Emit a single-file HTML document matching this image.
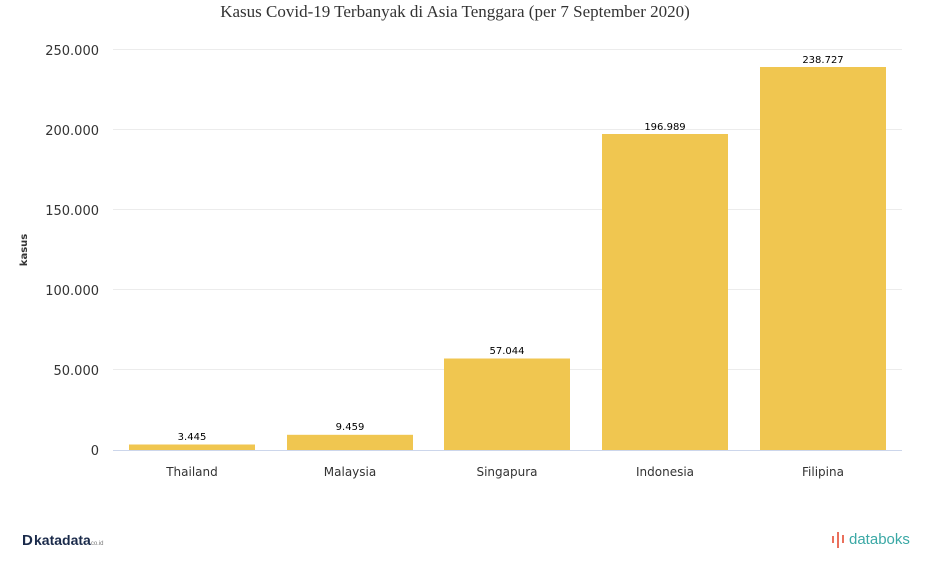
<!DOCTYPE html>
<html><head><meta charset="utf-8"><style>
body{margin:0;background:#fff;}
svg{display:block;font-family:"DejaVu Sans","Liberation Sans",sans-serif;}
</style></head><body>
<svg width="931" height="561" viewBox="0 0 931 561" xmlns="http://www.w3.org/2000/svg">
<text x="455" y="17" text-anchor="middle" font-family="Liberation Serif, serif" font-size="17" fill="#333">Kasus Covid-19 Terbanyak di Asia Tenggara (per 7 September 2020)</text>
<g stroke="#ececec" stroke-width="1">
<line x1="113" x2="902" y1="49.5" y2="49.5"/>
<line x1="113" x2="902" y1="129.5" y2="129.5"/>
<line x1="113" x2="902" y1="209.5" y2="209.5"/>
<line x1="113" x2="902" y1="289.5" y2="289.5"/>
<line x1="113" x2="902" y1="369.5" y2="369.5"/>
</g>
<line x1="113" x2="902" y1="450.5" y2="450.5" stroke="#ccd6eb"/>
<g font-size="13" fill="#333" text-anchor="end">
<text x="99" y="55">250.000</text>
<text x="99" y="135">200.000</text>
<text x="99" y="215">150.000</text>
<text x="99" y="295">100.000</text>
<text x="99" y="375">50.000</text>
<text x="99" y="455">0</text>
</g>
<text transform="translate(27,250) rotate(-90)" text-anchor="middle" font-size="10" font-weight="bold" fill="#333">kasus</text>
<g fill="#f0c650">
<rect x="129" y="444.5" width="126" height="5.5"/>
<rect x="287" y="434.8" width="126" height="15.2"/>
<rect x="444" y="358.5" width="126" height="91.5"/>
<rect x="602" y="134" width="126" height="316"/>
<rect x="760" y="67" width="126" height="383"/>
</g>
<g font-size="10" fill="#000" text-anchor="middle">
<text x="192" y="440">3.445</text>
<text x="350" y="430">9.459</text>
<text x="507" y="354">57.044</text>
<text x="665" y="130">196.989</text>
<text x="823" y="63">238.727</text>
</g>
<g font-size="12" fill="#333" text-anchor="middle">
<text x="192" y="476">Thailand</text>
<text x="350" y="476">Malaysia</text>
<text x="507" y="476">Singapura</text>
<text x="665" y="476">Indonesia</text>
<text x="823" y="476">Filipina</text>
</g>
<text x="22" y="545" font-size="15" font-weight="bold" fill="#1a2a4a" font-family="Liberation Sans, sans-serif">D</text>
<text x="34" y="545" font-size="14" font-weight="bold" fill="#1a2a4a" font-family="Liberation Sans, sans-serif">katadata<tspan font-size="6" font-weight="normal" fill="#777">co.id</tspan></text>
<g stroke="#e8604a" stroke-width="1.8">
<line x1="833" y1="536" x2="833" y2="543"/><line x1="838" y1="532" x2="838" y2="548"/><line x1="843" y1="535" x2="843" y2="543"/>
</g>
<text x="849" y="544" font-size="15" fill="#3aa8a5" font-family="Liberation Sans, sans-serif">databoks</text>
</svg>
</body></html>
